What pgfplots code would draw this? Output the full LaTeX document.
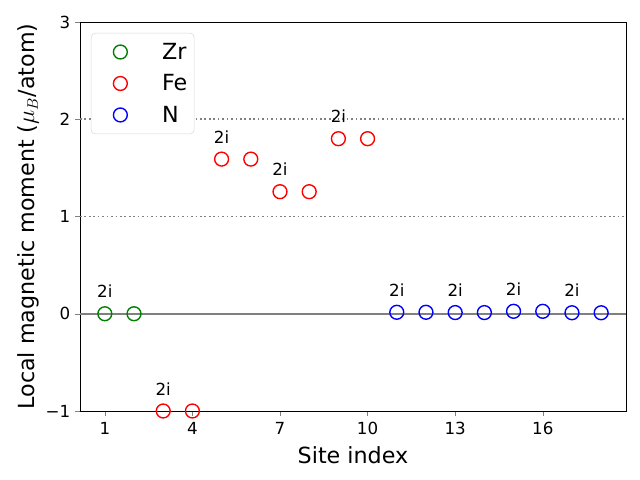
\documentclass[border=0pt]{standalone}
\usepackage{pgfplots}
\pgfplotsset{compat=1.18}
\usepackage{fontspec}
\setmainfont{DejaVu Sans}
\definecolor{mplgreen}{RGB}{0,128,0}
\begin{document}
\begin{tikzpicture}
\path[use as bounding box] (-57.6pt,-49.68pt) rectangle (403.2pt,295.92pt);
\begin{axis}[
  scale only axis, width=393.1pt, height=280.1pt,
  at={(0,0)}, anchor=south west,
  xmin=0.15, xmax=18.85, ymin=-1, ymax=3,
  xtick={1,4,7,10,13,16},
  xticklabels={1,4,7,10,13,16},
  ytick={-1,0,1,2,3},
  yticklabels={−1,0,1,2,3},
  tick align=outside, tick pos=left,
  major tick length=3.5pt,
  tick label style={font=\fontsize{12}{14}\selectfont},
  xticklabel style={yshift=-1pt},
  xlabel={Site index},
  ylabel={Local magnetic moment ($\mu_B$/atom)},
  label style={font=\fontsize{16}{19}\selectfont},
  xlabel style={yshift=-2pt},
  ylabel style={yshift=-2pt},
  legend style={at={(0.02,0.972)}, anchor=north west, draw=black!15, rounded corners=3pt,
    font=\fontsize{16}{19}\selectfont, row sep=5.5pt, inner xsep=3pt, inner ysep=5pt},
  legend image code/.code={\path[draw=none,fill=none] (0pt,-5pt) rectangle (46pt,5pt); \draw plot coordinates {(18pt,0pt)};},
  legend cell align=left,
  clip=false,
]
\addplot[gray, line width=1.2pt, forget plot] coordinates {(0.15,0) (18.85,0)};
\addplot[gray, dash pattern=on 1.2pt off 2pt, line width=1.2pt, forget plot] coordinates {(0.15,1) (18.85,1)};
\addplot[gray, dash pattern=on 1.2pt off 2pt, line width=1.2pt, forget plot] coordinates {(0.15,2) (18.85,2)};
\addplot[only marks, mark=o, mark size=5pt, mplgreen, mark options={line width=1pt}] coordinates {(1,0) (2,0)};
\addlegendentry{Zr}
\addplot[only marks, mark=o, mark size=5pt, red, mark options={line width=1pt}] coordinates {(3,-1) (4,-1) (5,1.59) (6,1.59) (7,1.255) (8,1.255) (9,1.80) (10,1.80)};
\addlegendentry{Fe}
\addplot[only marks, mark=o, mark size=5pt, blue, mark options={line width=1pt}] coordinates {(11,0.015) (12,0.015) (13,0.012) (14,0.012) (15,0.025) (16,0.025) (17,0.01) (18,0.01)};
\addlegendentry{N}
\foreach \xx/\yy in {1/0, 3/-1, 5/1.59, 7/1.255, 9/1.80, 11/0.015, 13/0.012, 15/0.025, 17/0.01} {
  \edef\tmp{\noexpand\node[anchor=south, font=\noexpand\fontsize{12}{14}\noexpand\selectfont, inner sep=0pt] at (axis cs:\xx,\yy+0.16) {2i};}
  \tmp
}
\end{axis}
\end{tikzpicture}
\end{document}
